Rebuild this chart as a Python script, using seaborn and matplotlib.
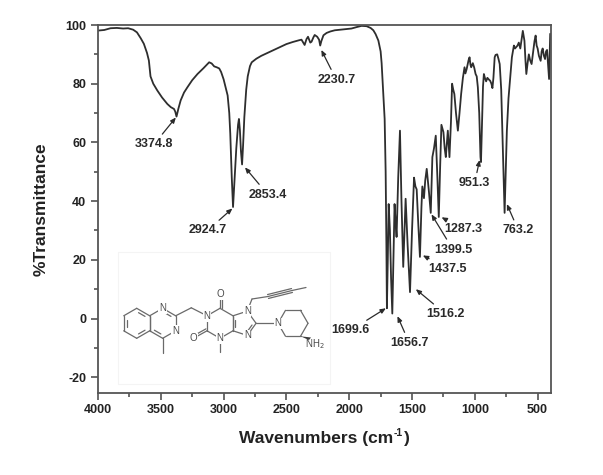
import math
import numpy as np
import pandas as pd
import matplotlib
matplotlib.use("Agg")
import matplotlib.pyplot as plt
import seaborn as sns
from matplotlib.ticker import MultipleLocator

# ---------------- data ----------------
wavenumber = [
    4000, 3950, 3900, 3850, 3800, 3760, 3720, 3690, 3660, 3635, 3610, 3595, 3582, 3560,
    3528, 3490, 3448, 3420, 3395, 3385, 3375, 3360, 3342, 3315, 3288, 3250, 3208, 3160,
    3115, 3095, 3075, 3055, 3035, 3020, 3000, 2980, 2968, 2955, 2947, 2935, 2925, 2912,
    2899, 2885, 2878, 2870, 2862, 2853, 2845, 2835, 2820, 2808, 2790, 2776, 2740, 2700,
    2650, 2600, 2550, 2500, 2450, 2400, 2380, 2355, 2340, 2328, 2310, 2300, 2285, 2275,
    2255, 2240, 2231, 2222, 2205, 2180, 2150, 2115, 2050, 1982, 1940, 1902, 1862, 1830,
    1808, 1790, 1768, 1750, 1742, 1728, 1718, 1710, 1704, 1700, 1693, 1686, 1676, 1667,
    1657, 1648, 1639, 1631, 1623, 1610, 1596, 1584, 1570, 1560, 1551, 1535, 1516, 1500,
    1484, 1473, 1463, 1450, 1437, 1425, 1418, 1405, 1395, 1383, 1365, 1351, 1338, 1325,
    1311, 1298, 1287, 1276, 1266, 1250, 1240, 1231, 1222, 1215, 1208, 1202, 1190, 1181,
    1172, 1163, 1150, 1135, 1122, 1109, 1095, 1082, 1075, 1065, 1050, 1042, 1035, 1029,
    1016, 1005, 994, 985, 976, 965, 955, 951, 944, 935, 928, 920, 910, 900, 890, 878,
    868, 860, 852, 842, 835, 822, 812, 802, 790, 780, 770, 763, 755, 745, 732, 716, 705,
    689, 680, 670, 660, 650, 638, 628, 618, 605, 597, 590, 580, 570, 560, 548, 535, 525,
    516, 508, 500, 490, 476, 468, 460, 450, 441, 433, 425, 418, 409, 403, 400,
]
transmittance = [
    98.1, 98.3, 98.9, 99.0, 98.8, 98.9, 98.4, 97.5, 95.5, 93.6, 90.5, 87.9, 82.5, 80.0,
    77.7, 75.3, 73.1, 72.0, 71.4, 70.5, 68.8, 71.5, 74.3, 77.0, 78.8, 81.2, 83.3, 85.3,
    87.3, 86.9, 85.9, 85.6, 85.2, 84.0, 81.5, 78.0, 76.0, 70.0, 63.0, 48.0, 38.0, 48.0,
    58.0, 66.0, 68.0, 64.0, 57.0, 52.5, 59.0, 68.6, 78.0, 82.5, 86.0, 87.3, 88.5, 89.5,
    90.5, 91.5, 92.5, 93.5, 94.2, 94.8, 95.0, 93.2, 95.2, 96.0, 94.0, 94.3, 95.8, 96.6,
    96.0, 95.0, 93.0, 94.5, 96.5, 97.3, 97.8, 98.2, 98.5, 98.8, 99.3, 99.7, 99.6, 99.0,
    98.2, 96.9, 94.7, 91.0, 87.0, 76.0, 68.0, 50.0, 25.0, 3.5, 20.0, 39.0, 30.0, 14.0,
    1.7, 20.0, 39.0, 33.0, 27.8, 48.0, 64.0, 40.0, 17.6, 30.0, 40.8, 25.0, 9.0, 30.0,
    48.0, 45.0, 44.0, 32.0, 21.0, 38.0, 45.0, 41.0, 47.0, 51.0, 43.0, 36.0, 55.0, 58.0,
    62.3, 48.0, 34.6, 52.0, 66.0, 63.5, 58.0, 55.0, 60.0, 64.0, 59.0, 55.0, 67.0, 80.0,
    78.0, 76.5, 70.0, 64.0, 70.0, 76.5, 82.0, 85.6, 83.5, 85.0, 88.0, 89.0, 86.5, 85.6,
    87.0, 85.5, 83.3, 82.5, 78.8, 70.0, 55.0, 53.3, 65.0, 79.0, 83.3, 82.0, 80.8, 82.0, 81.5, 81.0,
    80.0, 78.5, 82.0, 89.0, 89.8, 90.0, 88.5, 86.7, 78.0, 62.0, 45.0, 36.0, 48.0, 64.0, 75.0, 83.3, 89.0,
    93.0, 92.0, 92.5, 93.0, 94.0, 92.0, 95.0, 98.0, 94.6, 88.0, 83.3, 87.0, 90.0, 88.0, 86.7, 91.0, 94.5,
    96.4, 93.0, 92.0, 89.5, 87.8, 91.0, 92.0, 89.5, 88.4, 91.0, 91.5, 87.0, 81.6, 92.0, 97.0,
]

# peak labels: text, arrow tip (wavenumber, %T), text centre (wavenumber, %T)
peak_labels = ["3374.8", "2924.7", "2853.4", "2230.7", "951.3", "763.2",
               "1287.3", "1399.5", "1437.5", "1516.2", "1699.6", "1656.7"]
peak_tip_x = [3380, 2930, 2830, 2222, 962, 745, 1265, 1345, 1414, 1470, 1708, 1616]
peak_tip_y = [68.5, 37.5, 51.5, 91.5, 54.0, 39.0, 34.5, 35.5, 21.5, 10.0, 3.5, 0.8]
label_x = [3555, 3128, 2648, 2102, 1002, 653, 1095, 1174, 1214, 1232, 1988, 1522]
label_y = [59.3, 30.0, 42.2, 81.3, 46.1, 30.0, 30.5, 23.5, 17.0, 1.5, -4.0, -8.3]

x_ticks = [4000, 3500, 3000, 2500, 2000, 1500, 1000, 500]
y_ticks = [-20, 0, 20, 40, 60, 80, 100]

df = pd.DataFrame({"Wavenumber": wavenumber, "T": transmittance})

# ---------------- style ----------------
sns.set_style("ticks")
plt.rcParams["font.family"] = ["Liberation Sans", "DejaVu Sans"]
plt.rcParams["axes.unicode_minus"] = False

W, H = 603, 475
fig = plt.figure(figsize=(W / 100, H / 100), dpi=100)
AX_L, AX_R, AX_T, AX_B = 98.0, 550.7, 25.0, 392.5
ax = fig.add_axes([AX_L / W, 1 - AX_B / H, (AX_R - AX_L) / W, (AX_B - AX_T) / H])

sns.lineplot(data=df, x="Wavenumber", y="T", sort=False, estimator=None,
             color="#2e2e2e", linewidth=1.3, ax=ax)

ax.set_xlim(4000, 396)
ax.set_ylim(-25.2, 100)
ax.set_xticks(x_ticks)
ax.set_yticks(y_ticks)
ax.xaxis.set_minor_locator(MultipleLocator(250))
ax.yaxis.set_minor_locator(MultipleLocator(10))
ax.tick_params(which="both", direction="out", color="#444444", width=1.1,
               top=False, right=False)
ax.tick_params(which="major", length=5, labelsize=9)
ax.tick_params(which="minor", length=3)
for lab in ax.get_xticklabels() + ax.get_yticklabels():
    lab.set_fontweight("bold")
    lab.set_color("#222222")
for sp in ax.spines.values():
    sp.set_visible(True)
    sp.set_color("#555555")
    sp.set_linewidth(1.3)

ax.set_xlabel("")
ax.set_ylabel("%Transmittance", fontsize=12.5, fontweight="bold",
              labelpad=12, color="#222222")

# x label: "Wavenumbers (cm" + raised "-1" + ")" laid out side by side
fig.canvas.draw()
renderer = fig.canvas.get_renderer()
lab_kw = dict(fontweight="bold", color="#222222", ha="left", va="baseline")
base_y = H - 442.5
t_main = fig.text(0, base_y / H, "Wavenumbers (cm", fontsize=12.5, **lab_kw)
t_sup = fig.text(0, (base_y + 6.5) / H, "-1", fontsize=7.5, **lab_kw)
t_end = fig.text(0, base_y / H, ")", fontsize=12.5, **lab_kw)
w_main = t_main.get_window_extent(renderer).width
w_sup = t_sup.get_window_extent(renderer).width
w_end = t_end.get_window_extent(renderer).width
total = w_main + w_sup + w_end + 1.5
x0 = (AX_L + AX_R) / 2 - total / 2
t_main.set_x(x0 / W)
t_sup.set_x((x0 + w_main + 0.5) / W)
t_end.set_x((x0 + w_main + w_sup + 1.5) / W)

for t, px, py, tx, ty in zip(peak_labels, peak_tip_x, peak_tip_y, label_x, label_y):
    ax.annotate(t, xy=(px, py), xytext=(tx, ty), ha="center", va="center",
                fontsize=9, fontweight="bold", color="#2a2a2a",
                arrowprops=dict(arrowstyle="-|>,head_length=0.35,head_width=0.15",
                                color="#2a2a2a", lw=0.9, shrinkA=1, shrinkB=0))

# ---------------- molecular structure inset (pixel space overlay) ----------------
ov = fig.add_axes([0, 0, 1, 1], facecolor="none")
ov.set_xlim(0, W)
ov.set_ylim(H, 0)
ov.axis("off")

bond_col = "#6a6a6a"
blw = 0.9
s = 15.0


def polygon(cx, cy, r, start, n):
    step = 360.0 / n
    return [(cx + r * math.cos(math.radians(start + step * k)),
             cy - r * math.sin(math.radians(start + step * k))) for k in range(n)]


def bond(p, q, **kw):
    ov.plot([p[0], q[0]], [p[1], q[1]], color=bond_col, lw=blw,
            solid_capstyle="round", **kw)


def inner(p, q, c, f=0.22, trim=0.18):
    a = (p[0] + (c[0] - p[0]) * f, p[1] + (c[1] - p[1]) * f)
    b = (q[0] + (c[0] - q[0]) * f, q[1] + (c[1] - q[1]) * f)
    a2 = (a[0] + (b[0] - a[0]) * trim, a[1] + (b[1] - a[1]) * trim)
    b2 = (b[0] + (a[0] - b[0]) * trim, b[1] + (a[1] - b[1]) * trim)
    bond(a2, b2)


def parallel(p, q, d):
    dx, dy = q[0] - p[0], q[1] - p[1]
    L = math.hypot(dx, dy)
    nx, ny = -dy / L * d, dx / L * d
    bond((p[0] + nx, p[1] + ny), (q[0] + nx, q[1] + ny))


def ring(pts):
    for i in range(len(pts)):
        bond(pts[i], pts[(i + 1) % len(pts)])


def atom(p, txt, fs=7):
    ov.text(p[0], p[1], txt, ha="center", va="center", fontsize=fs,
            color="#4a4a4a", family="Liberation Sans",
            bbox=dict(boxstyle="square,pad=0.08", fc="white", ec="none"))


# faint inset frame
ov.plot([118, 330, 330, 118, 118], [252, 252, 384, 384, 252], color="#f4f4f4", lw=0.8)

bc = (136.7, 323.3)
pc = (bc[0] + 2 * s * math.cos(math.radians(30)), 323.3)
xc = (220.0, 323.3)
benz = polygon(*bc, s, 90, 6)
pyr = polygon(*pc, s, 90, 6)
xan = polygon(*xc, s, 90, 6)
r5 = s / (2 * math.sin(math.radians(36)))
a5 = s / (2 * math.tan(math.radians(36)))
ic = (xan[5][0] + a5, 323.3)
imi = [(ic[0] + r5 * math.cos(math.radians(a)), ic[1] - r5 * math.sin(math.radians(a)))
       for a in (144, 72, 0, -72, -144)]
npip = (278.0, 323.3)
pipc = (npip[0] + s, npip[1])
pip = polygon(*pipc, s, 180, 6)

ring(benz)
ring(pyr)
ring(xan)
ring(imi)
ring(pip)
inner(benz[1], benz[2], bc)
inner(benz[3], benz[4], bc)
inner(benz[5], benz[0], bc)
inner(pyr[0], pyr[5], pc)
inner(pyr[3], pyr[2], pc)
inner(imi[0], imi[4], ic)
inner(imi[2], imi[3], ic)

bond(pyr[3], (pyr[3][0], pyr[3][1] + s))
ch2 = (191.3, 307.8)
bond(pyr[5], ch2)
bond(ch2, xan[1])
o6 = (xan[0][0], xan[0][1] - 14)
bond(xan[0], o6)
parallel(xan[0], o6, 2.2)
o2 = (xan[2][0] - 13.5, xan[2][1] + 7.5)
bond(xan[2], o2)
parallel(xan[2], o2, 2.2)
bond(xan[3], (xan[3][0], xan[3][1] + 14))
b1 = (252.0, 299.0)
b2 = (268.0, 296.5)
b3 = (292.0, 290.5)
b4 = (306.0, 287.5)
bond(imi[1], b1)
bond(b1, b2)
bond(b2, b3)
parallel(b2, b3, 2.0)
parallel(b2, b3, -2.0)
bond(b3, b4)
bond(imi[2], npip)
nh2 = (312.5, 343.0)
ov.fill([pip[2][0], nh2[0] - 3.5, nh2[0] - 1.5], [pip[2][1], nh2[1] - 3.0, nh2[1] - 5.5],
        color="#3a3a3a", lw=0)

for p in (pyr[0], pyr[4], xan[1], xan[3], imi[1], imi[3], pip[0]):
    atom(p, "N")
atom(o6, "O")
atom(o2, "O")
ov.text(nh2[0] + 2, nh2[1] + 1, "NH$_2$", ha="center", va="center", fontsize=7,
        color="#4a4a4a")

fig.savefig("out.png", dpi=100)
